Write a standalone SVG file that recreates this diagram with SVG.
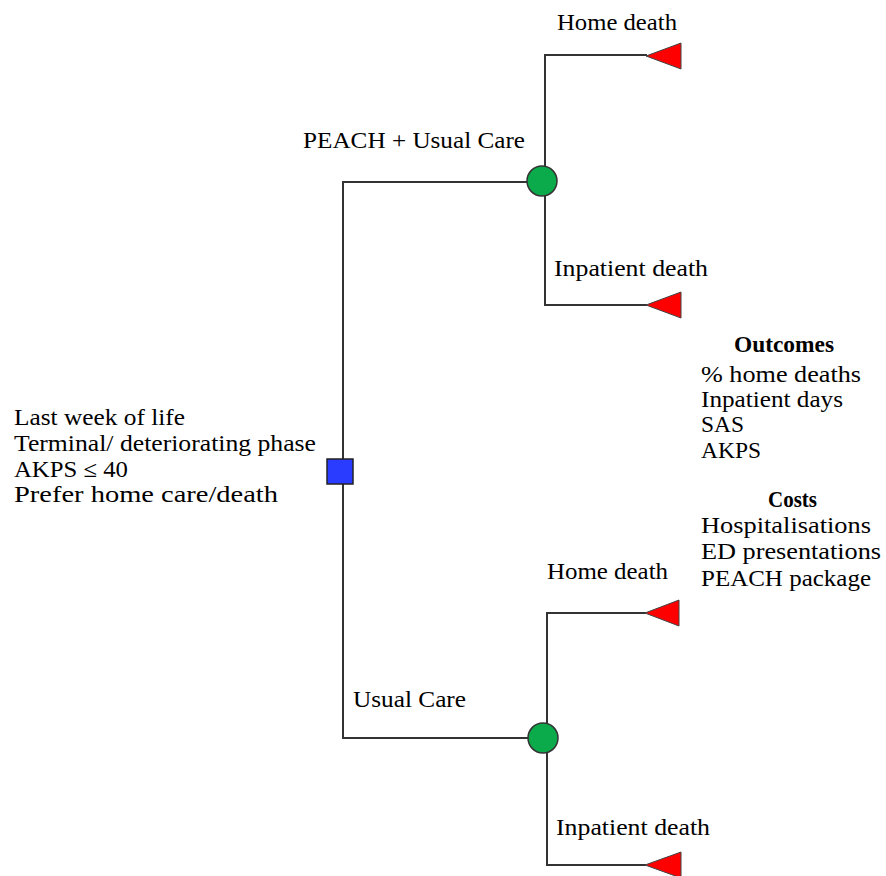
<svg xmlns="http://www.w3.org/2000/svg" width="886" height="876" viewBox="0 0 886 876">
<style>
  text { font-family: 'Liberation Serif', 'Times New Roman', serif; font-size: 23px; fill: #000; }
  .b { font-weight: bold; }
  .r { font-size: 24px; }
  .line { stroke: #333; stroke-width: 2; fill: none; }
  .chance { fill: #0bab4c; stroke: #333; stroke-width: 1.5; }
  .decision { fill: #2a3cff; stroke: #222; stroke-width: 1.5; }
  .terminal { fill: #ff0000; stroke: #444; stroke-width: 1; }
</style>
<rect width="886" height="876" fill="#fff"/>
<g id="connectors">
  <path class="line" d="M343,471 V182 H542"/>
  <path class="line" d="M343,471 V738 H543"/>
  <path class="line" d="M545,182 V55 H647"/>
  <path class="line" d="M545,182 V305 H647"/>
  <path class="line" d="M547,738 V613 H646"/>
  <path class="line" d="M547,738 V865 H646"/>
</g>
<g id="root">
  <rect class="decision" x="327" y="459" width="26" height="25"/>
  <text x="14" y="425" textLength="171" lengthAdjust="spacingAndGlyphs">Last week of life</text>
  <text x="14" y="451" textLength="302" lengthAdjust="spacingAndGlyphs">Terminal/ deteriorating phase</text>
  <text x="14" y="477" textLength="114" lengthAdjust="spacingAndGlyphs">AKPS ≤ 40</text>
  <text x="14" y="502" textLength="264" lengthAdjust="spacingAndGlyphs">Prefer home care/death</text>
</g>
<g id="peach">
  <circle class="chance" cx="542" cy="181" r="15"/>
  <text x="303" y="148" textLength="222" lengthAdjust="spacingAndGlyphs">PEACH + Usual Care</text>
</g>
<g id="usual">
  <circle class="chance" cx="543" cy="738" r="15"/>
  <text x="353" y="707" textLength="113" lengthAdjust="spacingAndGlyphs">Usual Care</text>
</g>
<g id="peach-home">
  <polygon class="terminal" points="646,56 681,43 681,69"/>
  <text x="557" y="30" textLength="120" lengthAdjust="spacingAndGlyphs">Home death</text>
</g>
<g id="peach-inpatient">
  <polygon class="terminal" points="646,305 681,292 681,318"/>
  <text x="554" y="276" textLength="154" lengthAdjust="spacingAndGlyphs">Inpatient death</text>
</g>
<g id="usual-home">
  <polygon class="terminal" points="645,613 679,600 679,626"/>
  <text x="547" y="579" textLength="121" lengthAdjust="spacingAndGlyphs">Home death</text>
</g>
<g id="usual-inpatient">
  <polygon class="terminal" points="645,865 681,852 681,878"/>
  <text x="556" y="835" textLength="154" lengthAdjust="spacingAndGlyphs">Inpatient death</text>
</g>
<g id="legend">
  <text class="b r" x="734" y="352" textLength="100" lengthAdjust="spacingAndGlyphs">Outcomes</text>
  <text class="r" x="701" y="382" textLength="160" lengthAdjust="spacingAndGlyphs">% home deaths</text>
  <text class="r" x="701" y="407" textLength="142" lengthAdjust="spacingAndGlyphs">Inpatient days</text>
  <text class="r" x="701" y="432" textLength="43" lengthAdjust="spacingAndGlyphs">SAS</text>
  <text class="r" x="701" y="458" textLength="60" lengthAdjust="spacingAndGlyphs">AKPS</text>
  <text class="b r" x="768" y="507" textLength="49" lengthAdjust="spacingAndGlyphs">Costs</text>
  <text class="r" x="701" y="533" textLength="170" lengthAdjust="spacingAndGlyphs">Hospitalisations</text>
  <text class="r" x="701" y="559" textLength="180" lengthAdjust="spacingAndGlyphs">ED presentations</text>
  <text class="r" x="701" y="586" textLength="170" lengthAdjust="spacingAndGlyphs">PEACH package</text>
</g>
</svg>
